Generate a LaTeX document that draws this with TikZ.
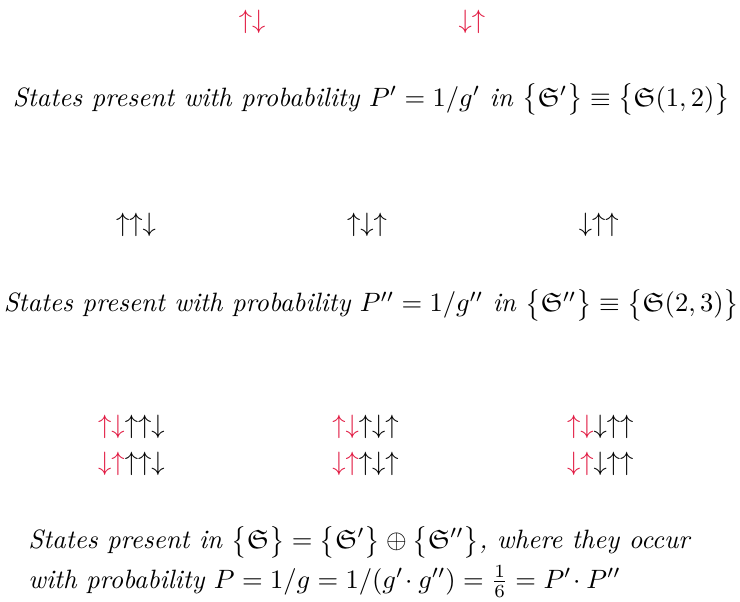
\documentclass[tikz,border=0pt]{standalone}
\usepackage{amsmath,amssymb,xcolor}
\definecolor{spinred}{RGB}{225,25,65}
\usepackage{tikz}
\usetikzlibrary{positioning}

\begin{document}
\begin{tikzpicture}[
  every node/.style={inner sep=0pt},
  spins/.style={font=\normalsize},
  caption/.style={font=\normalsize\itshape,align=center},
]
  \useasboundingbox (0,0) rectangle (9.8,-7.96);

  % first pair
  \node[spins] (ud) at (3.34,-0.29) {$\color{spinred}\uparrow\downarrow$};
  \node[spins] (du) at (6.25,-0.29) {$\color{spinred}\downarrow\uparrow$};
  \node[caption] (capone) at (4.92,-1.32)
    {States present with probability $P'=1/g'$\ in $\big\{\mathfrak{S}'\big\}\equiv\big\{\mathfrak{S}(1,2)\big\}$};

  % second triple
  \node[spins] (uud) at (1.80,-2.98) {$\uparrow\uparrow\downarrow$};
  \node[spins] (udu) at (4.86,-2.98) {$\uparrow\downarrow\uparrow$};
  \node[spins] (duu) at (7.93,-2.98) {$\downarrow\uparrow\uparrow$};
  \node[caption] (captwo) at (4.92,-4.04)
    {States present with probability $P''=1/g''$\ in $\big\{\mathfrak{S}''\big\}\equiv\big\{\mathfrak{S}(2,3)\big\}$};

  % products
  \node[spins,align=center] (prodone) at (1.74,-5.90)
    {$\color{spinred}\uparrow\downarrow$$\uparrow\uparrow\downarrow$\\[2pt]
     $\color{spinred}\downarrow\uparrow$$\uparrow\uparrow\downarrow$};
  \node[spins,align=center] (prodtwo) at (4.84,-5.90)
    {$\color{spinred}\uparrow\downarrow$$\uparrow\downarrow\uparrow$\\[2pt]
     $\color{spinred}\downarrow\uparrow$$\uparrow\downarrow\uparrow$};
  \node[spins,align=center] (prodthree) at (7.95,-5.90)
    {$\color{spinred}\uparrow\downarrow$$\downarrow\uparrow\uparrow$\\[2pt]
     $\color{spinred}\downarrow\uparrow$$\downarrow\uparrow\uparrow$};
  \node[caption,align=left,anchor=west] (capall) at (0.37,-7.44)
    {States present in $\big\{\mathfrak{S}\big\}=\big\{\mathfrak{S}'\big\}\oplus\big\{\mathfrak{S}''\big\}$, where they occur\\[3pt]
     with probability $P=1/g=1/(g'\!\cdot g'')=\frac{1}{6}=P'\!\cdot P''$};
\end{tikzpicture}
\end{document}
